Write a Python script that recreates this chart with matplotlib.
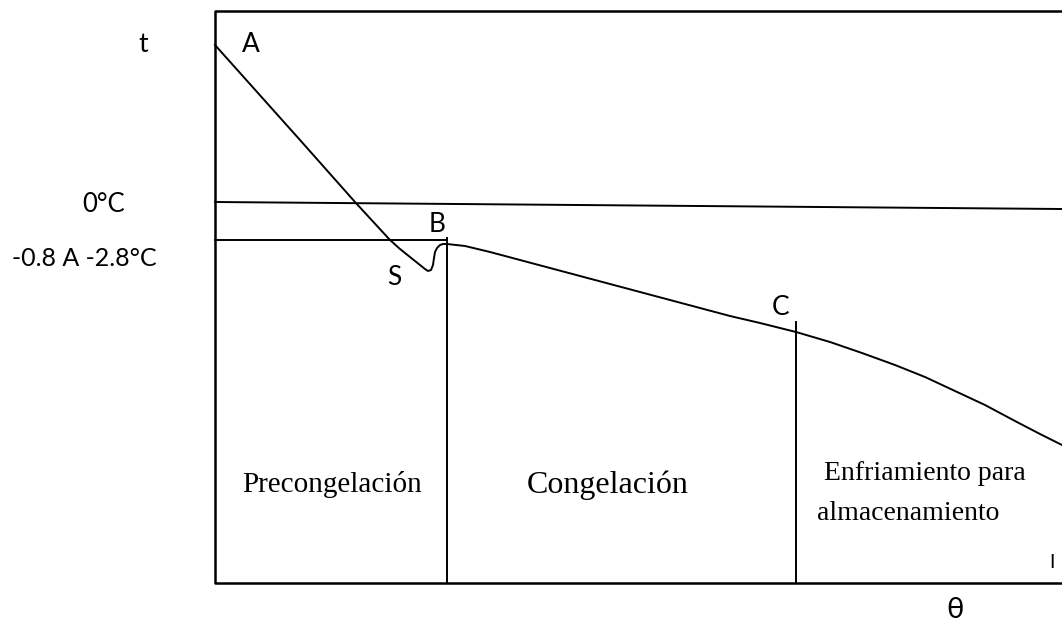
import matplotlib
matplotlib.use("Agg")
import matplotlib.pyplot as plt

# schematic freezing curve, coordinates (pixel space, y down)
curve_x = [215, 300, 355, 390, 400, 410, 420, 425, 428, 431, 433, 434, 435,
           437, 440, 443, 447, 465, 490, 520, 550, 580, 610, 640, 670, 700,
           730, 760, 796, 830, 862, 895, 925, 955, 985, 1015, 1040, 1062]
curve_y = [45, 140, 202, 240, 249, 257, 265, 269, 271, 270, 265, 258, 252,
           248, 245, 244, 244, 246, 252, 260, 268, 276, 284, 292, 300, 308,
           316, 323, 332, 342, 353, 365, 377, 391, 405, 421, 434, 445]

zero_line_x = [215, 1062]
zero_line_y = [202, 209]
supercool_x = [215, 447]
supercool_y = [240, 240]

# phase boundaries (x, top y)
boundaries_x = [447, 796]
boundaries_top = [238, 322]

frame_left, frame_right, frame_top, frame_bottom = 215, 1062, 11, 583

sans = ["Lato", "DejaVu Sans"]
serif = ["Liberation Serif", "DejaVu Serif"]

fig = plt.figure(figsize=(10.62, 6.29), dpi=100)
ax = fig.add_axes([0, 0, 1, 1])
ax.set_xlim(0, 1062)
ax.set_ylim(629, 0)
ax.axis("off")

lw = 1.4
ax.plot([frame_right, frame_left, frame_left, frame_right],
        [frame_top, frame_top, frame_bottom, frame_bottom],
        color="black", lw=1.8, clip_on=False)
ax.plot(curve_x, curve_y, color="black", lw=lw, solid_joinstyle="round")
ax.plot(zero_line_x, zero_line_y, color="black", lw=lw)
ax.plot(supercool_x, supercool_y, color="black", lw=lw)
for bx, top in zip(boundaries_x, boundaries_top):
    ax.plot([bx, bx], [top, frame_bottom], color="black", lw=lw)

# axis-side labels
ax.text(138, 52, "t", family=sans, fontsize=19, va="baseline")
ax.text(82, 212, "0°C", family=sans, fontsize=18.5, va="baseline")
ax.text(12, 266, "-0.8 A -2.8°C", family=sans, fontsize=18, va="baseline")
ax.text(946, 618, "θ", family=sans, fontsize=21, va="baseline")

# point labels
ax.text(242, 52, "A", family=sans, fontsize=19, va="baseline")
ax.text(387, 285, "S", family=sans, fontsize=19, va="baseline")
ax.text(429, 232, "B", family=sans, fontsize=19, va="baseline")
ax.text(772, 315, "C", family=sans, fontsize=19, va="baseline")
ax.text(1049, 568, "I", family=sans, fontsize=14, va="baseline")

# phase names
ax.text(242, 492, "Precongelación", family=serif, fontsize=21, va="baseline")
ax.text(527, 493, "Congelación", family=serif, fontsize=23, va="baseline")
ax.text(824, 480, "Enfriamiento para", family=serif, fontsize=20, va="baseline")
ax.text(817, 520, "almacenamiento", family=serif, fontsize=20, va="baseline")

fig.savefig("out.png", dpi=100)
